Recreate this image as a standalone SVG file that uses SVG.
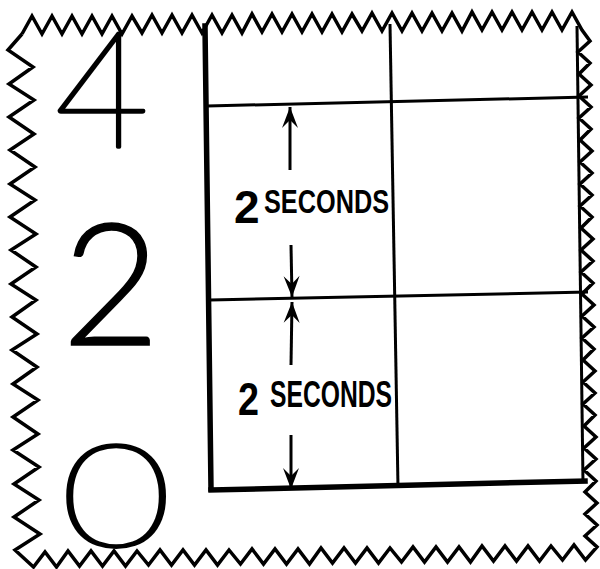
<svg xmlns="http://www.w3.org/2000/svg" width="600" height="569" viewBox="0 0 600 569">
<style>
.zig{fill:none;stroke:#000;stroke-width:3.5;stroke-linejoin:miter}
.thick{stroke:#000;stroke-width:5.5;stroke-linecap:square;fill:none}
.thin{stroke:#000;stroke-width:3;fill:none}
.arr{stroke:#000;stroke-width:3;fill:none;marker-end:url(#ah)}
.big{font-family:Lato,"Liberation Sans",sans-serif;fill:#000;text-anchor:middle}
.hand{font-weight:200;stroke:#000;stroke-width:3.5;stroke-linejoin:round}
.lab{font-family:"Liberation Sans",Arial,sans-serif;fill:#000;font-weight:bold}
</style>
<defs>
<marker id="ah" markerUnits="userSpaceOnUse" markerWidth="26" markerHeight="22" viewBox="-23 -11 26 22" refX="0" refY="0" orient="auto" overflow="visible">
<path d="M0,0 L-21,-8 L-13,0 L-21,8 Z" fill="#000"/>
</marker>
</defs>
<rect width="600" height="569" fill="#fff"/>
<g id="border">
<polyline class="zig" points="22,34 32,16 42,34 52,16 62,34 72,16 82,34 92,16 102,34 112,16 122,34 132,16 142,33 152,15 162,33 172,15 182,33 192,15 202,33 212,15 222,33 232,15 242,33 252,14 262,32 272,14 282,32 292,14 302,32 312,14 322,32 332,14 342,32 352,14 362,31 372,13 382,31 392,13 402,31 412,13 422,31 432,13 442,31 452,13 462,31 472,12 482,30 492,12 502,30 512,12 522,30 532,12 542,30 552,12 562,30 572,12 582,30 590,41 578,52 590,63 579,74 591,85 579,96 591,107 579,118 591,129 580,140 592,151 580,162 592,173 580,184 592,195 580,206 592,217 581,228 593,239 581,250 593,261 581,272 593,283 582,294 594,305 582,316 594,327 582,338 594,349 583,360 595,371 583,382 595,393 583,404 595,415 584,426 596,437 584,448 596,459 584,470 596,481 585,492 597,503 585,514 597,525 585,536 597,547 585.5,560 574,545 562.5,560 551,546 539.5,561 528,546 516.5,561 505,546 493.5,561 482,546 470.5,562 459,547 447.5,562 436,547 424.5,562 413,547 401.5,562 390,548 378.5,563 367,548 355.5,563 344,548 332.5,563 321,548 309.5,564 298,549 286.5,564 275,549 263.5,564 252,549 240.5,564 229,550 217.5,565 206,550 194.5,565 183,550 171.5,565 160,550 148.5,565 137,551 125.5,566 114,551 102.5,566 91,551 79.5,566 68,551 56.5,567 45,552 33.5,567 15,550 40,534 14,517 39,500 14,484 39,467 13,450 38,434 13,417 38,400 13,384 37,367 12,350 37,334 12,317 36,300 11,284 36,267 11,250 36,234 10,217 35,200 10,184 35,167 10,150 34,134 9,117 34,100 9,84 33,67 8,50 22,34"/>
</g>
<g id="grid">
<line class="thick" x1="205" y1="26" x2="211" y2="489"/>
<line class="thick" x1="211" y1="490" x2="585" y2="481"/>
<line class="thin" x1="390" y1="24" x2="398" y2="487"/>
<line class="thin" x1="577" y1="26" x2="583" y2="482"/>
<line class="thin" x1="207" y1="106" x2="588" y2="97"/>
<line class="thin" x1="210" y1="300" x2="588" y2="292"/>
</g>
<g id="numerals">
<text class="big hand" x="102" y="147" font-size="163">4</text>
<text class="big" x="111" y="345" font-size="170" font-weight="300" stroke="#000" stroke-width="1.5">2</text>
<text class="big hand" transform="translate(116,546) scale(1.35,1)" x="0" y="0" font-size="142">0</text>
</g>
<g id="connectors">
<line class="arr" x1="290" y1="170" x2="290" y2="107"/>
<line class="arr" x1="291" y1="245" x2="292" y2="297"/>
<line class="arr" x1="291" y1="365" x2="292" y2="302"/>
<line class="arr" x1="291" y1="435" x2="291" y2="489"/>
</g>
<g id="label1">
<text class="lab" x="234" y="223" font-size="46">2</text>
<text class="lab" x="264" y="213" font-size="34" font-weight="normal" textLength="125" lengthAdjust="spacingAndGlyphs">SECONDS</text>
</g>
<g id="label2">
<text class="lab" x="238" y="415" font-size="46" textLength="21" lengthAdjust="spacingAndGlyphs">2</text>
<text class="lab" x="270" y="407" font-size="37" font-weight="normal" textLength="122" lengthAdjust="spacingAndGlyphs">SECONDS</text>
</g>
</svg>
